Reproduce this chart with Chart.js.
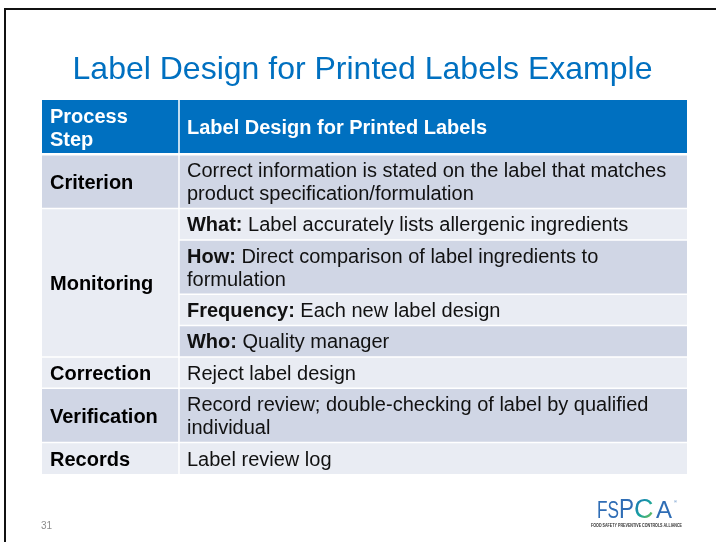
<!DOCTYPE html>
<html><head><meta charset="utf-8">
<script src="https://cdn.jsdelivr.net/npm/chart.js@4.4.1/dist/chart.umd.min.js"></script>
<style>html,body{margin:0;padding:0;background:#fff;overflow:hidden}#wrap{width:716px;height:542px;position:relative}</style>
</head><body><div id="wrap"><canvas id="c" width="716" height="542"></canvas></div>
<script>
// ---------- data ----------
const slideTitle = 'Label Design for Printed Labels Example';
const headerLabels = ['Process\nStep', 'Label Design for Printed Labels'];
const stepLabels = ['Criterion', 'Monitoring', 'Correction', 'Verification', 'Records'];
const detailStep = [0, 1, 1, 1, 1, 2, 3, 4];
const detailKeys = ['', 'What:', 'How:', 'Frequency:', 'Who:', '', '', ''];
const detailTexts = [
  'Correct information is stated on the label that matches\nproduct specification/formulation',
  'Label accurately lists allergenic ingredients',
  'Direct comparison of label ingredients to\nformulation',
  'Each new label design',
  'Quality manager',
  'Reject label design',
  'Record review; double-checking of label by qualified\nindividual',
  'Label review log'
];
const pageNumber = '31';
const logoText = ['FS', 'P', 'C', 'A'];
const logoTagline = 'FOOD SAFETY PREVENTIVE CONTROLS ALLIANCE';

// ---------- layout / style ----------
const FONT = '"Liberation Sans", Arial, sans-serif';
const BLUE = '#0070C0';
const BAND_DARK = '#D0D6E5';
const BAND_LIGHT = '#E9ECF3';
const ROW_PAD = 0.37;          // padding per row, in line units
const COL_SPLIT = 0.2124;      // column boundary on x scale (0..1)
const LINE_PX = 23;
const TEXT_PX = 20;
const CAP_HALF = 7.2;

const lineCount = s => s.split('\n').length;
const headerLines = Math.max(...headerLabels.map(lineCount));
const rowSpans = [];
let acc = 0;
rowSpans.push([acc, acc + headerLines + ROW_PAD]); acc += headerLines + ROW_PAD;
detailTexts.forEach(t => { const h = lineCount(t) + ROW_PAD; rowSpans.push([acc, acc + h]); acc += h; });
const totalUnits = acc;

const band = i => (i % 2 === 0 ? BAND_DARK : BAND_LIGHT);

function cell(x0, x1, y0, y1, color) {
  return {
    data: [{x: x0, y: y0}, {x: x1, y: y0}],
    fill: {value: y1},
    backgroundColor: color,
    borderColor: 'rgba(0,0,0,0)',
    borderWidth: 0,
    pointRadius: 0,
    tension: 0
  };
}

const datasets = [];
datasets.push(cell(0, COL_SPLIT, rowSpans[0][0], rowSpans[0][1], BLUE));
datasets.push(cell(COL_SPLIT, 1, rowSpans[0][0], rowSpans[0][1], BLUE));
detailTexts.forEach((t, i) => {
  const s = rowSpans[i + 1];
  datasets.push(cell(COL_SPLIT, 1, s[0], s[1], band(i)));
});
const stepRows = stepLabels.map((_, k) => detailStep.map((s, i) => s === k ? i : -1).filter(i => i >= 0));
stepRows.forEach(rows => {
  const first = rows[0], last = rows[rows.length - 1];
  datasets.push(cell(0, COL_SPLIT, rowSpans[first + 1][0], rowSpans[last + 1][1], band(first)));
});

const slidePlugin = {
  id: 'slide',
  beforeDraw(chart) {
    const ctx = chart.ctx;
    ctx.save();
    ctx.fillStyle = '#fff';
    ctx.fillRect(0, 0, chart.width, chart.height);
    ctx.fillStyle = '#111';
    ctx.fillRect(4, 8, chart.width - 4, 2);
    ctx.fillRect(4, 8, 2, chart.height - 8);
    ctx.restore();
  },
  afterDatasetsDraw(chart) {
    const ctx = chart.ctx, xs = chart.scales.x, ys = chart.scales.y;
    const X = v => xs.getPixelForValue(v), Y = v => ys.getPixelForValue(v);
    ctx.save();
    ctx.strokeStyle = '#fff';
    ctx.lineWidth = 1.5;
    ctx.beginPath();
    ctx.moveTo(X(COL_SPLIT), Y(0)); ctx.lineTo(X(COL_SPLIT), Y(totalUnits));
    for (let i = 1; i < detailTexts.length; i++) {
      const y = Y(rowSpans[i + 1][0]);
      const newStep = detailStep[i] !== detailStep[i - 1];
      ctx.moveTo(newStep ? X(0) : X(COL_SPLIT), y); ctx.lineTo(X(1), y);
    }
    ctx.stroke();
    ctx.lineWidth = 2.5;
    ctx.beginPath();
    ctx.moveTo(X(0), Y(rowSpans[1][0])); ctx.lineTo(X(1), Y(rowSpans[1][0]));
    ctx.stroke();

    const drawBlock = (lines, x, yTop, yBot, color, bold, key) => {
      const cy = (Y(yTop) + Y(yBot)) / 2;
      const n = lines.length;
      lines.forEach((ln, k) => {
        const by = cy + (k - (n - 1) / 2) * LINE_PX + CAP_HALF;
        let cx = x;
        ctx.fillStyle = color;
        if (k === 0 && key) {
          ctx.font = 'bold ' + TEXT_PX + 'px ' + FONT;
          ctx.fillText(key, cx, by);
          cx += ctx.measureText(key + ' ').width;
        }
        ctx.font = (bold ? 'bold ' : '') + TEXT_PX + 'px ' + FONT;
        ctx.fillText(ln, cx, by);
      });
    };
    ctx.textBaseline = 'alphabetic';
    ctx.textAlign = 'left';
    drawBlock(headerLabels[0].split('\n'), X(0) + 8, rowSpans[0][0], rowSpans[0][1], '#fff', true);
    drawBlock(headerLabels[1].split('\n'), X(COL_SPLIT) + 8, rowSpans[0][0], rowSpans[0][1], '#fff', true);
    stepRows.forEach((rows, k) => {
      drawBlock([stepLabels[k]], X(0) + 8, rowSpans[rows[0] + 1][0], rowSpans[rows[rows.length - 1] + 1][1], '#000', true);
    });
    detailTexts.forEach((t, i) => {
      drawBlock(t.split('\n'), X(COL_SPLIT) + 8, rowSpans[i + 1][0], rowSpans[i + 1][1], '#111', false, detailKeys[i]);
    });

    ctx.fillStyle = BLUE;
    ctx.font = '32px ' + FONT;
    ctx.textAlign = 'center';
    ctx.fillText(slideTitle, 362.5, 79);

    ctx.textAlign = 'left';
    ctx.fillStyle = '#8c8c8c';
    ctx.font = '10px ' + FONT;
    ctx.fillText(pageNumber, 41, 529);

    const logoBlue = '#2F6DB5';
    ctx.fillStyle = logoBlue;
    ctx.font = '24px ' + FONT;
    ctx.fillText(logoText[0], 597, 518, 22);
    ctx.font = '27px ' + FONT;
    ctx.fillText(logoText[1], 619, 518, 15);
    const g = ctx.createLinearGradient(633, 500, 656, 518);
    g.addColorStop(0, '#1D6FB8'); g.addColorStop(0.5, '#17A3A0'); g.addColorStop(1, '#8CC63F');
    ctx.fillStyle = g;
    ctx.font = '27px ' + FONT;
    ctx.fillText(logoText[2], 634, 518, 21);
    ctx.fillStyle = logoBlue;
    ctx.font = '24px ' + FONT;
    ctx.fillText(logoText[3], 656, 518, 18);
    ctx.font = '4px ' + FONT;
    ctx.fillText('®', 674, 503);
    ctx.fillStyle = '#333';
    ctx.font = 'bold 4.5px ' + FONT;
    ctx.fillText(logoTagline, 591, 527, 91);
    ctx.restore();
  }
};

new Chart(document.getElementById('c'), {
  type: 'line',
  data: {datasets},
  options: {
    responsive: false,
    animation: false,
    events: [],
    layout: {padding: {left: 42, right: 29, top: 100, bottom: 68}},
    scales: {
      x: {type: 'linear', min: 0, max: 1, display: false},
      y: {type: 'linear', min: 0, max: totalUnits, reverse: true, display: false}
    },
    plugins: {legend: {display: false}, tooltip: {enabled: false}, title: {display: false}}
  },
  plugins: [slidePlugin]
});
</script>
</body></html>
